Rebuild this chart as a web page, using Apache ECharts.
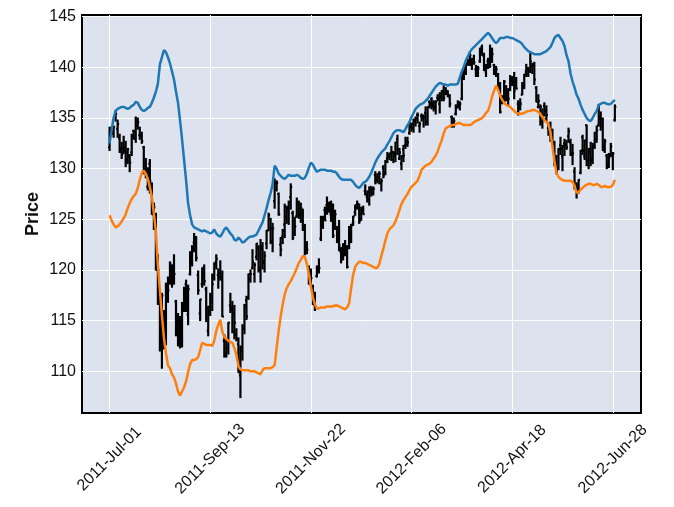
<!DOCTYPE html>
<html><head><meta charset="utf-8">
<script src="https://cdn.jsdelivr.net/npm/echarts@6/dist/echarts.min.js"></script>
<style>html,body{margin:0;padding:0;background:#fff}#c{width:674px;height:507px}</style>
</head><body><div id="c"></div>
<script>
var xTickPos = [0, 50, 100, 150, 200, 250];
var xTickLabels = ['2011-Jul-01', '2011-Sep-13', '2011-Nov-22', '2012-Feb-06', '2012-Apr-18', '2012-Jun-28'];
var yTicks = [110, 115, 120, 125, 130, 135, 140, 145];

var opens = [
132.1,133.8,133.5,135.2,133.9,133.0,131.7,132.0,132.1,131.6,
131.2,131.6,133.7,133.0,134.3,133.3,133.2,132.1,129.6,128.2,
130.5,128.4,125.6,125.5,120.9,116.9,113.3,115.3,113.3,118.4,
118.7,119.6,120.4,116.9,113.6,115.3,112.9,116.4,118.6,115.6,
119.6,121.0,122.7,122.7,119.5,115.7,118.6,119.7,118.1,114.0,
116.4,117.4,119.4,120.8,119.5,119.7,119.3,113.0,111.5,113.0,
116.5,116.3,115.7,113.6,112.7,109.6,112.0,114.2,117.0,117.3,
119.1,120.2,119.6,121.3,122.2,120.0,122.1,120.9,122.6,123.9,
125.0,124.1,126.8,127.9,127.5,122.5,123.3,124.5,125.3,126.1,
127.2,125.6,124.9,125.3,126.6,125.2,125.6,124.2,122.3,120.2,
119.6,118.4,117.2,119.4,120.1,123.1,124.8,125.9,126.4,126.0,
125.5,126.0,124.1,124.1,124.0,121.8,122.2,122.2,121.8,122.2,
124.2,124.6,125.7,126.2,126.5,125.0,125.9,127.8,127.2,127.0,
128.2,128.0,129.4,128.9,129.5,128.6,130.1,129.6,131.0,131.2,
131.5,130.9,131.3,132.9,131.0,130.5,131.9,132.3,132.7,133.5,
134.1,134.0,134.8,135.3,134.2,135.2,135.0,135.5,134.6,136.6,
136.9,136.2,136.1,137.0,136.4,137.1,137.7,137.5,137.6,137.1,
135.1,134.5,135.4,136.2,136.5,136.9,139.6,139.5,140.4,140.5,
140.3,140.8,139.8,139.6,140.6,142.0,141.2,139.6,140.6,140.6,
141.6,140.2,139.4,138.0,138.2,136.8,136.8,138.1,137.6,137.8,
138.7,138.6,138.6,136.4,136.2,137.3,138.1,139.6,139.9,139.7,
140.1,140.3,138.0,136.1,136.1,134.6,136.2,134.9,134.0,133.7,
133.3,132.5,130.8,130.0,132.3,131.2,132.5,132.3,133.2,132.6,
131.4,129.7,128.2,127.8,129.6,133.1,131.2,134.3,130.8,131.6,
131.0,132.2,132.8,134.3,134.9,134.9,132.2,131.3,130.4,131.4,
131.3,134.8];
var highs = [
134.1,134.1,134.2,135.7,134.8,133.4,132.6,133.2,132.7,132.0,
131.4,133.4,133.8,135.1,135.0,134.1,133.6,132.2,131.0,130.1,
130.9,128.6,126.6,125.6,121.5,117.8,117.7,116.0,118.7,119.3,
120.8,120.5,121.5,117.0,115.7,115.4,116.8,118.3,119.0,118.5,
121.8,122.4,123.6,123.3,119.9,117.1,120.2,120.5,118.3,116.4,
117.7,119.6,120.7,121.5,120.1,120.9,119.9,113.6,113.1,114.8,
117.7,116.9,116.5,114.2,113.3,112.5,114.6,116.6,117.4,119.6,
120.0,122.0,120.7,122.6,122.4,123.0,122.7,121.8,123.9,125.6,
125.1,124.6,129.0,128.8,127.6,123.2,124.0,126.5,126.3,126.8,
128.5,125.8,125.2,127.1,126.8,126.6,126.0,124.5,122.8,120.4,
120.1,118.5,117.8,120.4,121.1,125.3,125.3,126.2,127.2,126.7,
126.8,126.5,125.9,124.3,124.9,122.2,122.6,122.9,122.4,124.3,
124.5,125.3,126.4,126.8,126.5,126.2,126.3,128.4,127.8,128.2,
128.2,128.2,129.7,129.5,129.7,129.0,130.3,130.8,131.6,131.5,
132.2,131.7,132.6,133.3,132.0,131.3,132.3,133.1,133.1,134.6,
134.5,134.9,135.1,135.5,134.6,135.4,135.3,136.1,136.1,136.7,
137.0,136.7,136.7,137.3,137.5,137.7,138.2,138.0,137.7,137.3,
135.2,135.0,136.3,136.7,136.6,139.5,140.0,140.4,140.8,141.5,
140.9,141.2,140.2,140.1,141.9,142.2,141.4,140.3,140.9,142.2,
141.9,140.3,140.1,139.4,138.5,137.2,138.7,138.2,137.9,139.2,
139.1,139.5,139.0,136.7,136.9,138.5,139.3,140.3,140.0,141.5,
140.4,140.5,138.1,137.3,136.3,135.9,136.5,136.2,134.5,134.6,
133.9,132.7,131.3,132.0,133.1,132.3,132.9,132.8,134.0,132.9,
132.4,130.1,128.6,128.9,131.8,133.3,132.8,134.3,132.0,132.6,
132.5,133.6,134.2,136.3,135.6,135.0,132.9,131.4,131.5,132.5,
131.6,136.3];
var lows = [
131.8,133.4,133.1,134.7,133.1,131.6,131.0,131.5,130.2,130.5,
129.7,131.3,132.9,132.6,133.9,132.9,132.5,129.5,129.1,127.9,
127.6,125.5,124.0,120.0,116.6,112.0,110.3,112.2,112.6,116.8,
118.6,118.3,118.6,113.5,112.5,112.3,112.4,115.9,115.9,114.6,
119.5,120.4,121.8,120.9,117.6,115.0,118.3,118.5,114.9,113.5,
115.5,116.0,119.0,120.1,118.2,119.0,115.4,111.4,111.4,111.7,
115.8,113.8,113.2,113.0,109.9,107.4,111.1,113.7,115.1,117.1,
118.8,120.1,118.8,121.0,119.8,118.8,120.1,119.8,122.1,123.9,
122.6,121.8,126.1,127.8,125.4,121.4,122.6,123.2,124.6,124.5,
126.0,123.0,123.4,125.2,125.1,124.7,123.9,121.5,121.6,118.6,
118.4,116.6,116.0,119.3,119.7,122.9,124.1,124.9,125.5,125.7,
124.8,123.2,124.0,122.7,121.9,120.7,121.0,121.4,120.2,122.1,
122.7,124.4,125.4,126.0,124.6,124.9,125.5,127.4,126.7,126.4,
127.3,127.4,128.5,128.6,128.5,127.8,129.1,129.4,130.6,130.9,
130.8,130.6,130.7,131.4,130.9,129.9,130.7,132.0,132.2,133.4,
133.7,133.6,134.2,134.5,133.6,134.7,134.1,134.3,134.3,136.0,
135.9,135.7,135.4,136.7,135.5,136.7,136.7,137.3,137.1,136.1,
134.1,134.1,135.3,136.0,135.8,136.8,138.8,139.3,140.2,140.2,
139.8,140.3,139.1,139.1,140.5,141.2,139.7,139.1,139.9,140.0,
140.5,139.3,139.1,137.9,135.5,136.4,136.6,136.7,136.3,137.7,
138.2,136.9,137.9,135.3,135.8,137.3,137.9,139.1,139.1,139.5,
139.4,138.3,136.6,136.0,134.3,134.0,135.2,134.7,133.3,132.7,
132.3,130.3,129.5,129.9,131.4,129.8,131.3,131.9,132.6,131.3,
130.4,128.0,127.1,127.6,129.5,131.4,130.9,130.3,130.0,130.3,
130.5,132.0,132.6,134.2,133.8,131.8,131.6,130.0,130.1,131.2,
129.9,134.7];
var closes = [
133.9,133.8,134.1,135.4,134.4,132.0,131.4,131.8,130.9,131.9,
130.6,133.2,133.0,134.7,134.6,133.3,132.7,129.8,129.6,129.3,
128.8,125.5,126.2,120.0,120.0,112.3,117.5,112.6,117.3,118.0,
120.6,119.6,119.6,114.2,112.6,112.6,116.7,118.1,116.3,118.1,
121.7,122.0,122.6,121.2,118.0,117.1,120.2,118.9,115.1,116.0,
117.0,118.6,120.6,121.1,119.3,119.1,115.4,111.8,112.3,114.8,
116.1,113.9,114.8,113.2,109.9,112.3,114.4,116.5,115.4,119.6,
119.6,120.8,120.5,122.6,120.2,122.3,120.7,121.4,123.9,125.4,
122.8,124.1,128.6,128.6,125.5,122.0,123.9,126.2,126.0,126.7,
128.2,123.2,124.3,126.7,125.5,126.1,124.0,121.9,122.0,119.7,
119.2,116.6,116.2,119.9,120.2,125.1,124.9,124.9,126.1,126.2,
126.5,123.4,125.5,123.6,122.4,121.0,121.6,121.6,120.3,124.2,
124.4,125.3,126.4,126.5,124.8,126.1,125.5,127.5,127.7,128.0,
127.6,128.0,129.2,129.2,129.5,128.8,129.3,130.7,131.2,131.5,
131.6,131.5,132.6,131.9,131.6,131.2,131.3,132.4,132.6,134.5,
134.4,134.7,135.0,135.3,134.4,135.2,135.1,134.6,136.1,136.4,
136.4,136.0,136.6,136.9,137.1,137.6,137.0,137.7,137.3,136.4,
134.3,134.7,136.0,136.4,136.4,139.5,139.4,140.3,140.7,141.2,
140.7,140.5,139.5,139.9,141.8,141.2,140.2,140.0,140.8,141.8,
141.3,139.9,139.8,138.2,135.6,136.6,138.6,136.9,136.9,139.0,
138.5,137.7,137.9,135.9,136.4,138.4,139.3,139.7,139.6,140.6,
140.2,138.8,136.6,136.7,136.1,135.3,135.7,135.3,133.6,133.0,
132.5,130.4,129.7,131.9,132.0,132.2,132.4,132.1,133.7,131.5,
131.5,128.2,128.1,128.9,131.8,131.8,132.8,130.4,131.9,130.8,
132.2,133.5,133.8,135.1,134.9,131.8,132.7,130.2,131.1,132.2,
131.5,136.1];
var upperLine = [
132.5,133.8,135.0,135.7,135.9,136.0,136.1,136.1,136.0,135.9,
136.0,136.2,136.3,136.6,136.5,136.1,135.8,135.7,135.8,136.0,
136.1,136.5,137.0,137.6,138.4,140.3,141.0,141.7,141.5,141.0,
140.4,139.6,138.8,137.6,136.5,134.8,132.9,130.9,128.9,126.6,
125.4,124.5,124.2,124.1,124.0,123.9,123.8,123.9,123.8,123.7,
123.6,123.7,124.0,123.6,123.4,123.3,123.6,124.0,124.2,123.9,
123.6,123.4,123.0,122.9,123.2,123.0,122.7,122.8,123.0,123.2,
123.3,123.3,123.4,123.5,123.9,124.3,124.7,125.4,126.1,126.9,
127.6,128.5,130.3,130.0,129.5,129.3,129.1,129.0,129.2,129.4,
129.3,129.3,129.3,129.4,129.3,129.1,129.0,129.1,129.5,130.1,
130.6,130.4,130.0,129.7,129.8,129.9,129.9,129.9,129.8,129.8,
129.8,129.7,129.7,129.5,129.2,129.0,128.9,128.9,128.9,128.9,
128.9,128.7,128.4,128.2,128.1,128.3,128.6,128.7,128.9,129.2,
129.6,130.1,130.6,131.0,131.3,131.6,131.8,132.0,132.4,132.7,
133.1,133.5,133.7,133.8,133.8,133.7,133.6,133.9,134.3,134.6,
135.1,135.5,135.9,136.1,136.3,136.4,136.5,136.7,136.9,137.2,
137.5,137.8,138.1,138.3,138.45,138.4,138.3,138.3,138.2,138.3,
138.3,138.3,138.3,138.4,139.0,139.6,140.1,140.7,141.1,141.5,
141.8,142.0,142.2,142.4,142.6,142.8,143.0,143.2,143.4,143.2,
142.9,142.6,142.4,142.6,142.9,142.9,142.9,143.0,143.0,142.9,
142.9,142.8,142.7,142.6,142.5,142.3,142.0,141.8,141.6,141.5,
141.4,141.3,141.3,141.3,141.3,141.4,141.5,141.6,141.8,142.0,
142.4,142.9,143.1,143.2,142.9,142.6,142.1,141.2,140.6,139.4,
138.6,138.0,137.3,136.9,136.3,135.8,135.4,135.0,134.8,134.7,
135.0,135.4,135.7,136.3,136.4,136.5,136.5,136.4,136.35,136.4,
136.6,136.8];
var lowerLine = [
125.4,124.9,124.5,124.2,124.3,124.5,124.8,125.1,125.5,126.1,
126.6,127.0,127.3,127.5,128.1,128.9,129.6,129.8,129.5,129.0,
128.2,127.2,125.6,123.8,120.5,118.0,115.5,113.3,111.8,110.6,
110.3,109.7,109.4,108.8,108.0,107.6,108.0,108.4,109.0,109.9,
110.7,111.1,111.1,111.2,111.4,112.1,112.8,112.7,112.6,112.6,
112.6,112.5,113.0,114.0,114.6,115.1,113.9,113.4,113.2,113.0,
112.9,112.8,112.3,111.6,110.5,110.2,110.1,110.1,110.1,110.1,
110.0,110.0,110.0,109.9,109.8,109.7,110.1,110.3,110.3,110.3,
110.3,110.4,110.6,112.3,114.0,115.4,116.6,117.6,118.2,118.6,
118.9,119.3,119.7,120.2,120.7,121.0,121.4,121.3,120.6,119.6,
118.4,117.3,116.6,116.2,116.2,116.3,116.3,116.3,116.4,116.4,
116.4,116.4,116.5,116.5,116.4,116.3,116.2,116.1,116.3,116.7,
118.2,119.5,120.3,120.6,120.8,120.8,120.7,120.7,120.6,120.5,
120.4,120.3,120.2,120.2,120.6,121.4,122.1,122.9,123.6,124.0,
124.2,124.4,124.8,125.3,125.9,126.5,126.9,127.2,127.5,127.9,
128.2,128.4,128.6,128.8,129.3,129.9,130.1,130.3,130.4,130.5,
130.7,131.0,131.3,131.7,132.3,132.8,133.5,134.0,134.1,134.2,
134.3,134.3,134.4,134.5,134.5,134.4,134.3,134.3,134.3,134.3,
134.4,134.6,134.7,134.8,134.9,135.0,135.2,135.5,135.7,136.3,
137.1,137.7,138.2,137.8,137.2,136.8,136.5,136.3,136.2,136.1,
135.9,135.7,135.5,135.45,135.4,135.45,135.5,135.6,135.7,135.7,
135.8,135.8,135.7,135.6,135.4,135.1,134.8,134.6,134.4,133.6,
132.2,130.7,129.6,129.2,129.0,128.9,128.8,128.8,128.8,128.8,
128.7,128.3,127.6,127.7,127.9,128.1,128.3,128.4,128.5,128.5,
128.4,128.4,128.5,128.4,128.2,128.2,128.3,128.2,128.2,128.2,
128.4,128.9];

var ohlcRows = [], upRows = [], loRows = [];
for (var i = 0; i < opens.length; i++) {
  ohlcRows.push([i, opens[i], highs[i], lows[i], closes[i]]);
  upRows.push([i, upperLine[i]]);
  loRows.push([i, lowerLine[i]]);
}
var labelMap = {};
xTickPos.forEach(function (p, k) { labelMap[p] = xTickLabels[k]; });

var chart = echarts.init(document.getElementById('c'), null, {renderer: 'canvas'});
chart.setOption({
  animation: false,
  backgroundColor: '#ffffff',
  textStyle: {fontFamily: 'Liberation Sans'},
  grid: {left: 82, right: 33, top: 15, bottom: 94, show: true,
         backgroundColor: '#dce3ef', borderColor: '#000', borderWidth: 2},
  xAxis: {
    type: 'value', min: -13.7, max: 264,
    axisLine: {show: false},
    axisTick: {show: false, customValues: xTickPos},
    axisLabel: {customValues: xTickPos, rotate: 45, align: 'center', verticalAlign: 'middle',
      margin: 46, fontSize: 16, color: '#111', fontFamily: 'Liberation Sans',
      formatter: function (v) { return labelMap[v] || ''; }},
    splitLine: {show: true, lineStyle: {color: '#ffffff', width: 1}}
  },
  yAxis: {
    type: 'value', min: 105.88, max: 145.17,
    name: 'Price', nameLocation: 'middle', nameGap: 40, nameRotate: 90, nameMoveOverlap: false,
    nameTextStyle: {fontSize: 18, fontWeight: 'bold', color: '#111', fontFamily: 'Liberation Sans'},
    axisLine: {show: false},
    axisTick: {show: false, customValues: yTicks},
    axisLabel: {customValues: yTicks, fontSize: 16, margin: 6, color: '#111', fontFamily: 'Liberation Sans'},
    splitLine: {show: true, lineStyle: {color: '#ffffff', width: 1}}
  },
  series: [
    {
      type: 'custom', name: 'OHLC', data: ohlcRows,
      encode: {x: 0, y: [1, 2, 3, 4]},
      clip: true, z: 2,
      renderItem: function (params, api) {
        var x = api.value(0);
        var o = api.coord([x, api.value(1)]);
        var h = api.coord([x, api.value(2)]);
        var l = api.coord([x, api.value(3)]);
        var c = api.coord([x, api.value(4)]);
        var t = 1.5;
        var st = {stroke: '#000', lineWidth: 2.2};
        return {type: 'group', children: [
          {type: 'line', shape: {x1: h[0], y1: h[1] - 0.5, x2: l[0], y2: l[1] + 0.5}, style: st},
          {type: 'line', shape: {x1: o[0] - t, y1: o[1], x2: o[0], y2: o[1]}, style: st},
          {type: 'line', shape: {x1: c[0], y1: c[1], x2: c[0] + t, y2: c[1]}, style: st}
        ]};
      }
    },
    {type: 'line', name: 'upper', data: upRows, showSymbol: false, z: 3,
     lineStyle: {color: '#1f77b4', width: 2.5}, itemStyle: {color: '#1f77b4'}},
    {type: 'line', name: 'lower', data: loRows, showSymbol: false, z: 3,
     lineStyle: {color: '#ff7f0e', width: 2.5}, itemStyle: {color: '#ff7f0e'}}
  ]
});
</script></body></html>
